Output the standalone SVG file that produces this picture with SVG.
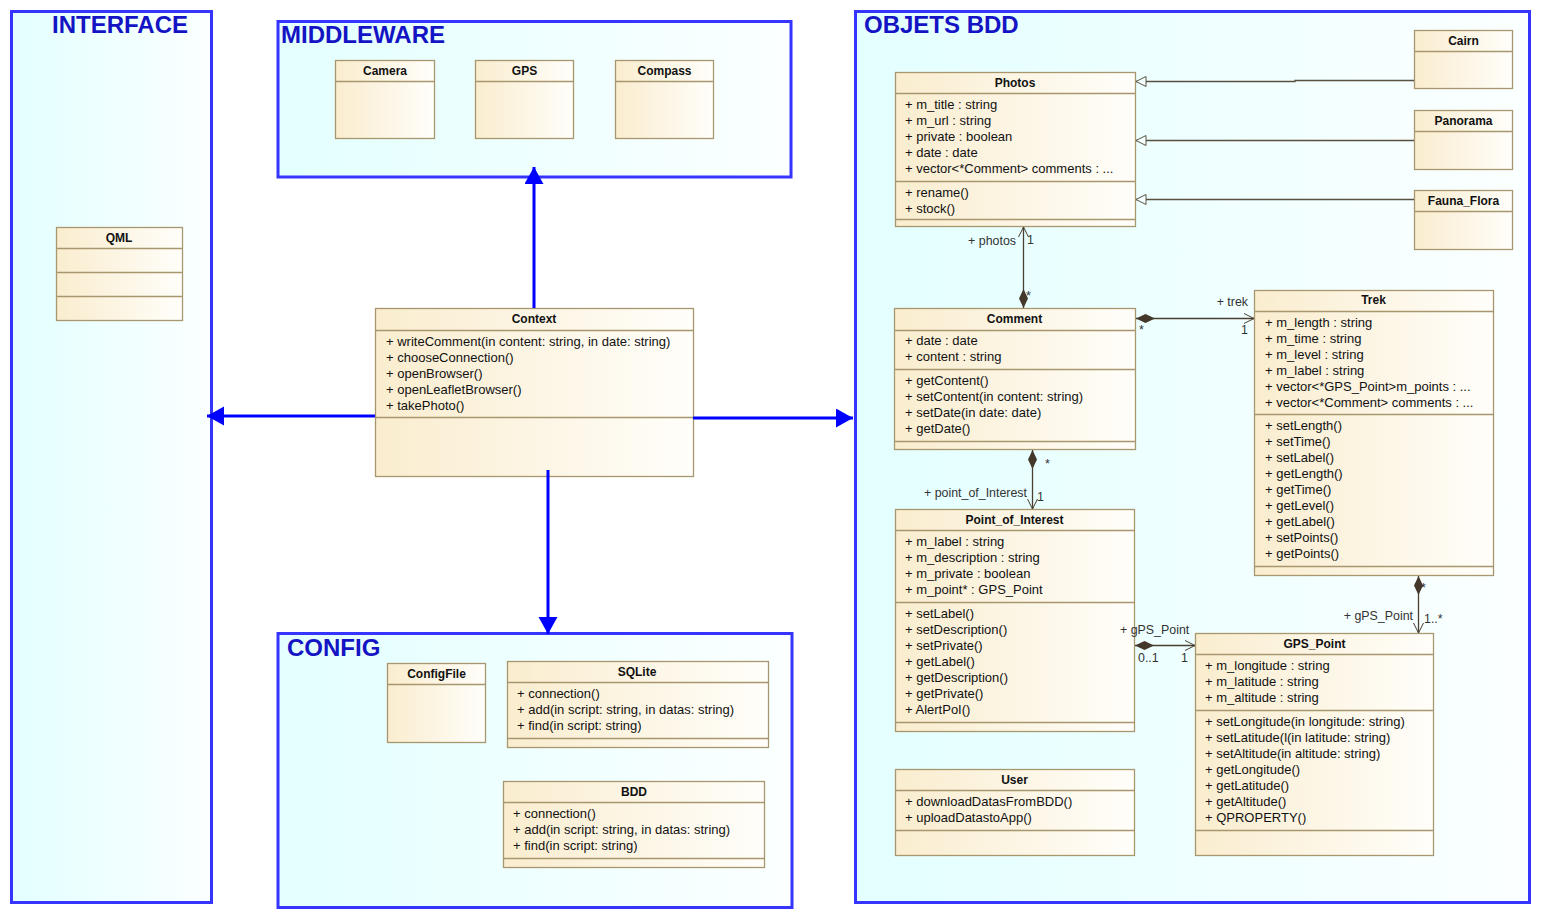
<svg xmlns="http://www.w3.org/2000/svg" width="1542" height="920" viewBox="0 0 1542 920">
  <defs>
    <linearGradient id="pkgFill" x1="0" y1="0" x2="1" y2="0">
      <stop offset="0" stop-color="#e3ffff"/>
      <stop offset="1" stop-color="#fbffff"/>
    </linearGradient>
    <linearGradient id="boxFill" x1="0" y1="0" x2="1" y2="0">
      <stop offset="0" stop-color="#faedcf"/>
      <stop offset="1" stop-color="#fffefa"/>
    </linearGradient>
    <marker id="blueHead" markerUnits="userSpaceOnUse" markerWidth="18" markerHeight="20" refX="17" refY="9.5" orient="auto" viewBox="0 0 18 20">
      <path d="M0,0 L17,9.5 L0,19 z" fill="#0000ff"/>
    </marker>
    <marker id="hollowTri" markerUnits="userSpaceOnUse" markerWidth="12" markerHeight="12" refX="11" refY="6" orient="auto" viewBox="0 0 12 12">
      <path d="M1,1 L11,6 L1,11 z" fill="#f4ffff" stroke="#5a5040" stroke-width="1"/>
    </marker>
    <marker id="openArrow" markerUnits="userSpaceOnUse" markerWidth="12" markerHeight="12" refX="11" refY="6" orient="auto" viewBox="0 0 12 12">
      <path d="M1,1 L11,6 L1,11" fill="none" stroke="#4a3e30" stroke-width="1"/>
    </marker>
    <marker id="diamond" markerUnits="userSpaceOnUse" markerWidth="20" markerHeight="10" refX="0" refY="5" orient="auto" viewBox="0 0 20 10">
      <path d="M0,5 L9.5,0.5 L19,5 L9.5,9.5 z" fill="#44382a"/>
    </marker>
  </defs>
  <style>
    .pkg { fill: url(#pkgFill); stroke: #3535ff; stroke-width: 3; }
    .pkgTitle { font-family: "Liberation Sans", Arial, sans-serif; font-size: 24px; font-weight: bold; fill: #1414c4; }
    .box { fill: url(#boxFill); stroke: #a8976e; stroke-width: 1.3; }
    .sep { stroke: #a8976e; stroke-width: 1.3; }
    .name { font-family: "Liberation Sans", Arial, sans-serif; font-size: 12px; font-weight: bold; fill: #111; text-anchor: middle; }
    .mem { font-family: "Liberation Sans", Arial, sans-serif; font-size: 13px; fill: #111; }
    .lbl { font-family: "Liberation Sans", Arial, sans-serif; font-size: 12.4px; fill: #333; }
    .dep { stroke: #0000ff; stroke-width: 3; fill: none; marker-end: url(#blueHead); }
    .gen { stroke: #5a5040; stroke-width: 1.3; fill: none; marker-end: url(#hollowTri); }
    .assoc { stroke: #4a3e30; stroke-width: 1.3; fill: none; marker-start: url(#diamond); marker-end: url(#openArrow); }
  </style>

  <!-- packages -->
  <g id="pkg-interface">
    <rect class="pkg" x="11.5" y="11.5" width="200" height="891"/>
    <text class="pkgTitle" x="52" y="33">INTERFACE</text>
  </g>
  <g id="pkg-middleware">
    <rect class="pkg" x="278" y="21.5" width="513" height="155.5"/>
    <text class="pkgTitle" x="281" y="43">MIDDLEWARE</text>
  </g>
  <g id="pkg-objets-bdd">
    <rect class="pkg" x="855.5" y="11.5" width="674" height="891"/>
    <text class="pkgTitle" x="864" y="33">OBJETS BDD</text>
  </g>
  <g id="pkg-config">
    <rect class="pkg" x="278" y="633.5" width="514" height="274"/>
    <text class="pkgTitle" x="287" y="656">CONFIG</text>
  </g>

  <!-- INTERFACE -->
  <g id="QML">
    <rect class="box" x="56.5" y="227.5" width="126" height="93"/>
    <line class="sep" x1="56.5" y1="248.5" x2="182.5" y2="248.5"/>
    <line class="sep" x1="56.5" y1="272.5" x2="182.5" y2="272.5"/>
    <line class="sep" x1="56.5" y1="296.5" x2="182.5" y2="296.5"/>
    <text class="name" x="119" y="242">QML</text>
  </g>

  <!-- MIDDLEWARE -->
  <g id="Camera">
    <rect class="box" x="335.5" y="60.5" width="99" height="78"/>
    <line class="sep" x1="335.5" y1="81.5" x2="434.5" y2="81.5"/>
    <text class="name" x="385" y="75">Camera</text>
  </g>
  <g id="GPS">
    <rect class="box" x="475.5" y="60.5" width="98" height="78"/>
    <line class="sep" x1="475.5" y1="81.5" x2="573.5" y2="81.5"/>
    <text class="name" x="524.5" y="75">GPS</text>
  </g>
  <g id="Compass">
    <rect class="box" x="615.5" y="60.5" width="98" height="78"/>
    <line class="sep" x1="615.5" y1="81.5" x2="713.5" y2="81.5"/>
    <text class="name" x="664.5" y="75">Compass</text>
  </g>

  <!-- Context -->
  <g id="Context">
    <rect class="box" x="375.5" y="308.5" width="318" height="168"/>
    <line class="sep" x1="375.5" y1="330.5" x2="693.5" y2="330.5"/>
    <line class="sep" x1="375.5" y1="417.5" x2="693.5" y2="417.5"/>
    <text class="name" x="534" y="323">Context</text>
    <text class="mem" x="386" y="346">+ writeComment(in content: string, in date: string)</text>
    <text class="mem" x="386" y="362">+ chooseConnection()</text>
    <text class="mem" x="386" y="378">+ openBrowser()</text>
    <text class="mem" x="386" y="394">+ openLeafletBrowser()</text>
    <text class="mem" x="386" y="410">+ takePhoto()</text>
  </g>

  <!-- CONFIG -->
  <g id="ConfigFile">
    <rect class="box" x="387.5" y="663.5" width="98" height="79"/>
    <line class="sep" x1="387.5" y1="684.5" x2="485.5" y2="684.5"/>
    <text class="name" x="436.5" y="678">ConfigFile</text>
  </g>
  <g id="SQLite">
    <rect class="box" x="507.5" y="661.5" width="261" height="86"/>
    <line class="sep" x1="507.5" y1="682.5" x2="768.5" y2="682.5"/>
    <line class="sep" x1="507.5" y1="738.5" x2="768.5" y2="738.5"/>
    <text class="name" x="637" y="676">SQLite</text>
    <text class="mem" x="517" y="698">+ connection()</text>
    <text class="mem" x="517" y="714">+ add(in script: string, in datas: string)</text>
    <text class="mem" x="517" y="730">+ find(in script: string)</text>
  </g>
  <g id="BDD">
    <rect class="box" x="503.5" y="781.5" width="261" height="86"/>
    <line class="sep" x1="503.5" y1="802.5" x2="764.5" y2="802.5"/>
    <line class="sep" x1="503.5" y1="858.5" x2="764.5" y2="858.5"/>
    <text class="name" x="634" y="796">BDD</text>
    <text class="mem" x="513" y="818">+ connection()</text>
    <text class="mem" x="513" y="834">+ add(in script: string, in datas: string)</text>
    <text class="mem" x="513" y="850">+ find(in script: string)</text>
  </g>

  <!-- OBJETS BDD -->
  <g id="Photos">
    <rect class="box" x="895.5" y="72.5" width="240" height="154"/>
    <line class="sep" x1="895.5" y1="93.5" x2="1135.5" y2="93.5"/>
    <line class="sep" x1="895.5" y1="181.5" x2="1135.5" y2="181.5"/>
    <line class="sep" x1="895.5" y1="219.5" x2="1135.5" y2="219.5"/>
    <text class="name" x="1015" y="87">Photos</text>
    <text class="mem" x="905" y="109">+ m_title : string</text>
    <text class="mem" x="905" y="125">+ m_url : string</text>
    <text class="mem" x="905" y="141">+ private : boolean</text>
    <text class="mem" x="905" y="157">+ date : date</text>
    <text class="mem" x="905" y="173">+ vector&lt;*Comment&gt; comments : ...</text>
    <text class="mem" x="905" y="197">+ rename()</text>
    <text class="mem" x="905" y="213">+ stock()</text>
  </g>
  <g id="Cairn">
    <rect class="box" x="1414.5" y="30.5" width="98" height="58"/>
    <line class="sep" x1="1414.5" y1="51.5" x2="1512.5" y2="51.5"/>
    <text class="name" x="1463.5" y="45">Cairn</text>
  </g>
  <g id="Panorama">
    <rect class="box" x="1414.5" y="110.5" width="98" height="59"/>
    <line class="sep" x1="1414.5" y1="131.5" x2="1512.5" y2="131.5"/>
    <text class="name" x="1463.5" y="125">Panorama</text>
  </g>
  <g id="Fauna_Flora">
    <rect class="box" x="1414.5" y="190.5" width="98" height="59"/>
    <line class="sep" x1="1414.5" y1="211.5" x2="1512.5" y2="211.5"/>
    <text class="name" x="1463.5" y="205">Fauna_Flora</text>
  </g>
  <g id="Comment">
    <rect class="box" x="894.5" y="308.5" width="241" height="141"/>
    <line class="sep" x1="894.5" y1="330.5" x2="1135.5" y2="330.5"/>
    <line class="sep" x1="894.5" y1="369.5" x2="1135.5" y2="369.5"/>
    <line class="sep" x1="894.5" y1="441.5" x2="1135.5" y2="441.5"/>
    <text class="name" x="1014.5" y="323">Comment</text>
    <text class="mem" x="905" y="345">+ date : date</text>
    <text class="mem" x="905" y="361">+ content : string</text>
    <text class="mem" x="905" y="385">+ getContent()</text>
    <text class="mem" x="905" y="401">+ setContent(in content: string)</text>
    <text class="mem" x="905" y="417">+ setDate(in date: date)</text>
    <text class="mem" x="905" y="433">+ getDate()</text>
  </g>
  <g id="Trek">
    <rect class="box" x="1254.5" y="290.5" width="239" height="285"/>
    <line class="sep" x1="1254.5" y1="311.5" x2="1493.5" y2="311.5"/>
    <line class="sep" x1="1254.5" y1="414.5" x2="1493.5" y2="414.5"/>
    <line class="sep" x1="1254.5" y1="566.5" x2="1493.5" y2="566.5"/>
    <text class="name" x="1373.5" y="304">Trek</text>
    <text class="mem" x="1265" y="327">+ m_length : string</text>
    <text class="mem" x="1265" y="343">+ m_time : string</text>
    <text class="mem" x="1265" y="359">+ m_level : string</text>
    <text class="mem" x="1265" y="375">+ m_label : string</text>
    <text class="mem" x="1265" y="391">+ vector&lt;*GPS_Point&gt;m_points : ...</text>
    <text class="mem" x="1265" y="407">+ vector&lt;*Comment&gt; comments : ...</text>
    <text class="mem" x="1265" y="430">+ setLength()</text>
    <text class="mem" x="1265" y="446">+ setTime()</text>
    <text class="mem" x="1265" y="462">+ setLabel()</text>
    <text class="mem" x="1265" y="478">+ getLength()</text>
    <text class="mem" x="1265" y="494">+ getTime()</text>
    <text class="mem" x="1265" y="510">+ getLevel()</text>
    <text class="mem" x="1265" y="526">+ getLabel()</text>
    <text class="mem" x="1265" y="542">+ setPoints()</text>
    <text class="mem" x="1265" y="558">+ getPoints()</text>
  </g>
  <g id="Point_of_Interest">
    <rect class="box" x="895.5" y="509.5" width="239" height="222"/>
    <line class="sep" x1="895.5" y1="530.5" x2="1134.5" y2="530.5"/>
    <line class="sep" x1="895.5" y1="602.5" x2="1134.5" y2="602.5"/>
    <line class="sep" x1="895.5" y1="722.5" x2="1134.5" y2="722.5"/>
    <text class="name" x="1014.5" y="524">Point_of_Interest</text>
    <text class="mem" x="905" y="546">+ m_label : string</text>
    <text class="mem" x="905" y="562">+ m_description : string</text>
    <text class="mem" x="905" y="578">+ m_private : boolean</text>
    <text class="mem" x="905" y="594">+ m_point* : GPS_Point</text>
    <text class="mem" x="905" y="618">+ setLabel()</text>
    <text class="mem" x="905" y="634">+ setDescription()</text>
    <text class="mem" x="905" y="650">+ setPrivate()</text>
    <text class="mem" x="905" y="666">+ getLabel()</text>
    <text class="mem" x="905" y="682">+ getDescription()</text>
    <text class="mem" x="905" y="698">+ getPrivate()</text>
    <text class="mem" x="905" y="714">+ AlertPoI()</text>
  </g>
  <g id="GPS_Point">
    <rect class="box" x="1195.5" y="633.5" width="238" height="222"/>
    <line class="sep" x1="1195.5" y1="654.5" x2="1433.5" y2="654.5"/>
    <line class="sep" x1="1195.5" y1="710.5" x2="1433.5" y2="710.5"/>
    <line class="sep" x1="1195.5" y1="830.5" x2="1433.5" y2="830.5"/>
    <text class="name" x="1314.5" y="648">GPS_Point</text>
    <text class="mem" x="1205" y="670">+ m_longitude : string</text>
    <text class="mem" x="1205" y="686">+ m_latitude : string</text>
    <text class="mem" x="1205" y="702">+ m_altitude : string</text>
    <text class="mem" x="1205" y="726">+ setLongitude(in longitude: string)</text>
    <text class="mem" x="1205" y="742">+ setLatitude(l(in latitude: string)</text>
    <text class="mem" x="1205" y="758">+ setAltitude(in altitude: string)</text>
    <text class="mem" x="1205" y="774">+ getLongitude()</text>
    <text class="mem" x="1205" y="790">+ getLatitude()</text>
    <text class="mem" x="1205" y="806">+ getAltitude()</text>
    <text class="mem" x="1205" y="822">+ QPROPERTY()</text>
  </g>
  <g id="User">
    <rect class="box" x="895.5" y="769.5" width="239" height="86"/>
    <line class="sep" x1="895.5" y1="790.5" x2="1134.5" y2="790.5"/>
    <line class="sep" x1="895.5" y1="830.5" x2="1134.5" y2="830.5"/>
    <text class="name" x="1014.5" y="784">User</text>
    <text class="mem" x="905" y="806">+ downloadDatasFromBDD()</text>
    <text class="mem" x="905" y="822">+ uploadDatastoApp()</text>
  </g>

  <!-- connectors -->
  <g id="connectors">
    <!-- package dependencies from Context -->
    <line class="dep" x1="534" y1="308" x2="534" y2="167"/>
    <line class="dep" x1="375" y1="416" x2="207" y2="416"/>
    <line class="dep" x1="693" y1="418" x2="853" y2="418"/>
    <line class="dep" x1="548" y1="470" x2="548" y2="634"/>

    <!-- generalizations to Photos -->
    <path class="gen" d="M1414,80.5 H1295 V81.5 H1136"/>
    <path class="gen" d="M1414,140.5 H1136"/>
    <path class="gen" d="M1414,199.5 H1136"/>

    <!-- composite associations -->
    <line class="assoc" x1="1023.5" y1="308" x2="1023.5" y2="227"/>
    <line class="assoc" x1="1136" y1="318.5" x2="1254" y2="318.5"/>
    <line class="assoc" x1="1032.5" y1="450" x2="1032.5" y2="509"/>
    <line class="assoc" x1="1135" y1="645.5" x2="1195" y2="645.5"/>
    <line class="assoc" x1="1418.5" y1="576" x2="1418.5" y2="633"/>

    <!-- role and multiplicity labels -->
    <text class="lbl" x="1016" y="245" text-anchor="end">+ photos</text>
    <text class="lbl" x="1027" y="244">1</text>
    <text class="lbl" x="1026" y="300">*</text>

    <text class="lbl" x="1248" y="306" text-anchor="end">+ trek</text>
    <text class="lbl" x="1241" y="334">1</text>
    <text class="lbl" x="1139" y="334">*</text>

    <text class="lbl" x="1045" y="468">*</text>
    <text class="lbl" x="1027" y="497" text-anchor="end">+ point_of_Interest</text>
    <text class="lbl" x="1037" y="501">1</text>

    <text class="lbl" x="1120" y="634">+ gPS_Point</text>
    <text class="lbl" x="1138" y="662">0..1</text>
    <text class="lbl" x="1181" y="662">1</text>

    <text class="lbl" x="1421" y="592">*</text>
    <text class="lbl" x="1413" y="620" text-anchor="end">+ gPS_Point</text>
    <text class="lbl" x="1424" y="623">1..*</text>
  </g>
</svg>
